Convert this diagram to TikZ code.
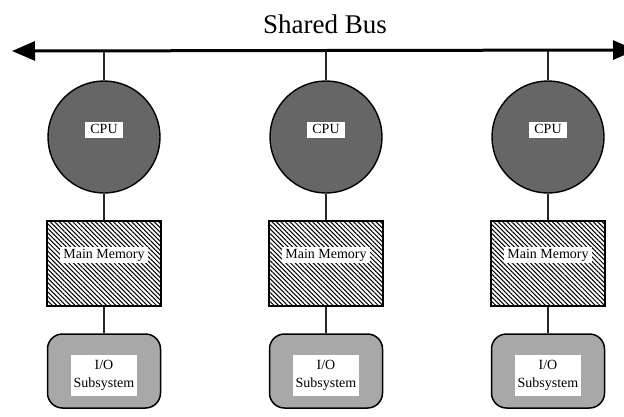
\documentclass[tikz,border=0pt]{standalone}
\usepackage{fontspec}
\setmainfont{Liberation Serif}
\usetikzlibrary{arrows.meta,patterns.meta}
\definecolor{cpug}{gray}{0.40}
\definecolor{iog}{gray}{0.66}
\begin{document}
\begin{tikzpicture}[x=1pt,y=-1pt,
  cpushape/.style={circle,draw=black,line width=1.4pt,fill=cpug,minimum size=112pt,inner sep=0pt},
  memshape/.style={rectangle,draw=black,line width=1.5pt,minimum width=114pt,minimum height=85pt,inner sep=0pt,
    pattern={Lines[angle=-45,distance=3.2pt,line width=1.05pt]}},
  ioshape/.style={rectangle,rounded corners=15pt,draw=black,line width=1.5pt,fill=iog,minimum width=113pt,minimum height=74pt,inner sep=0pt},
  lbl/.style={fill=white,inner ysep=2pt,inner xsep=4.5pt,font=\fontsize{14}{17}\selectfont,text height=9.8pt,text depth=2.5pt},
  iolbl/.style={fill=white,inner xsep=3pt,inner ysep=5pt,align=center,font=\fontsize{14}{18}\selectfont},
  conn/.style={line width=1.1pt,draw=black!85}
]
\useasboundingbox (0,0) rectangle (624,416);
\clip (0,0) rectangle (624,416);
\node[font=\fontsize{27}{32}\selectfont,inner sep=0pt] (title) at (325,24) {Shared Bus};
\coordinate (bl) at (12,51);
\coordinate (br) at (636,50);
\draw[line width=3pt,{Triangle[length=23pt,width=19pt]}-{Triangle[length=23pt,width=19pt]}] (bl) -- (br);
\foreach \i/\x in {1/104,2/326,3/548}{
  \coordinate (b\i) at (\x,50.5);
  \node[cpushape] (cpu\i) at (\x,137) {};
  \node[lbl,inner xsep=5.5pt] (cpul\i) at (\x,130) {CPU};
  \node[memshape] (mem\i) at (\x,263.5) {};
  \node[lbl,inner xsep=3pt] (meml\i) at (\x,255) {Main Memory};
  \node[ioshape] (io\i) at (\x,371) {};
  \node[iolbl] (iol\i) at (\x,375.5) {I/O\\Subsystem};
  \draw[conn] (b\i) -- (cpu\i.north);
  \draw[conn] (cpu\i.south) -- (mem\i.north);
  \draw[conn] (mem\i.south) -- (io\i.north);
}
\end{tikzpicture}
\end{document}
